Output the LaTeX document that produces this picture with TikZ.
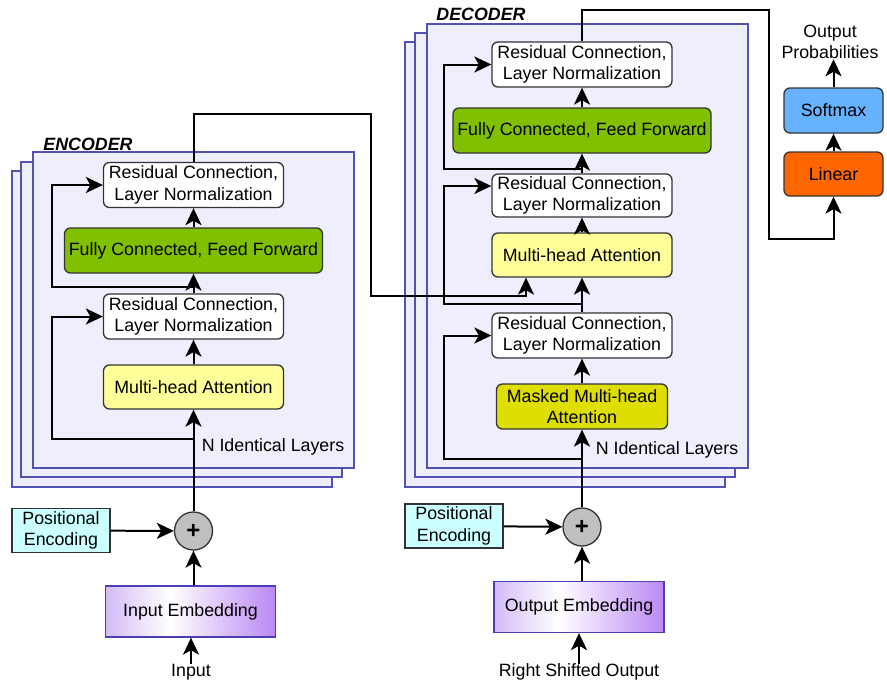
\documentclass[tikz,border=0pt]{standalone}
\usepackage{fontspec}
\setmainfont{Liberation Sans}
\usetikzlibrary{arrows.meta,calc}
\definecolor{stackfill}{HTML}{EEEEFC}
\definecolor{stackline}{HTML}{5252B4}
\definecolor{ffgreen}{HTML}{80C000}
\definecolor{attyellow}{HTML}{FFFF99}
\definecolor{maskyellow}{HTML}{DEDE00}
\definecolor{pecyan}{HTML}{CCFFFF}
\definecolor{sumgray}{HTML}{C0C0C0}
\definecolor{softblue}{HTML}{66B2FF}
\definecolor{linorange}{HTML}{FF6600}
\definecolor{embleft}{HTML}{D3BBF8}
\definecolor{embright}{HTML}{BA88F3}
\definecolor{embline}{HTML}{4A3FB5}
\definecolor{boxline}{HTML}{333333}
% lavender -> white -> violet; the visible band of a node shading is 25bp..75bp
\pgfdeclarehorizontalshading{embshade}{100bp}{color(0bp)=(embleft); color(25bp)=(embleft); color(44bp)=(white); color(75bp)=(embright); color(100bp)=(embright)}
\begin{document}
\begin{tikzpicture}[x=1pt,y=-1pt,
  every node/.style={font=\fontsize{17.8}{21.5}\selectfont},
  blockbox/.style={draw=boxline,line width=1.3pt,rounded corners=6pt,align=center,inner sep=2pt},
  rcbox/.style={blockbox,fill=white,minimum width=180pt,minimum height=45pt},
  ffbox/.style={blockbox,fill=ffgreen,minimum width=258pt,minimum height=45pt},
  attbox/.style={blockbox,fill=attyellow,minimum width=180pt,minimum height=44pt},
  maskbox/.style={blockbox,fill=maskyellow,minimum width=171pt,minimum height=45pt},
  outbox/.style={blockbox,minimum width=99pt,minimum height=44pt},
  pebox/.style={draw=boxline,line width=1.3pt,fill=pecyan,align=center,inner sep=2pt,minimum width=98pt,minimum height=44pt},
  embbox/.style={draw=embline,line width=1.3pt,shading=embshade,minimum width=170pt,minimum height=51pt},
  sumnode/.style={circle,draw=boxline,line width=1.3pt,fill=sumgray,minimum size=38pt,inner sep=0pt,font=\fontsize{24}{24}\selectfont\bfseries},
  stackbox/.style={draw=stackline,fill=stackfill,line width=1.3pt},
  titletext/.style={font=\fontsize{17.8}{21.5}\selectfont\bfseries\itshape},
  plaintext/.style={inner sep=0pt,align=center},
  wire/.style={line width=2pt,draw=black},
  arr/.style={wire,-{Stealth[length=17pt,width=16pt,inset=4.5pt]}},
]
\useasboundingbox (0,0) rectangle (887,686);

% ---------- layer stacks ----------
\draw[stackbox] (12,171) rectangle (332,487);
\draw[stackbox] (21,162) rectangle (342,477);
\draw[stackbox] (33,152) rectangle (354,468);
\draw[stackbox] (405,42) rectangle (725,487);
\draw[stackbox] (415,33) rectangle (735,477);
\draw[stackbox] (427,24) rectangle (748,468);

\node[titletext] (enctitle) at (88,144) {ENCODER};
\node[titletext] (dectitle) at (481,14) {DECODER};

% ---------- encoder ----------
\node[rcbox]   (erc2) at (193.5,185)   {Residual Connection,\\Layer Normalization};
\node[ffbox]   (eff)  at (193.5,250.5) {Fully Connected, Feed Forward};
\node[rcbox]   (erc1) at (193.5,316.5) {Residual Connection,\\Layer Normalization};
\node[attbox]  (emha) at (193.5,387)   {Multi-head Attention};
\node[plaintext] (enclayers) at (273,447) {N Identical Layers};
\node[sumnode] (eplus) at (193.5,531) {+};
\node[pebox]   (epe)  at (61,530.5) {Positional\\Encoding};
\node[embbox]  (iemb) at (190.5,611.5) {Input Embedding};
\node[plaintext] (inp) at (191,672) {Input};

\coordinate (eskipA) at (193.5,439);
\coordinate (eskipB) at (193.5,287);

\draw[arr] (inp.north) -- (inp.north |- iemb.south);
\draw[arr] (iemb.north -| eplus) -- (eplus);
\draw[arr] (epe) -- (eplus);
\draw[arr] (eplus) -- (emha);
\draw[arr] (emha) -- (erc1);
\draw[arr] (erc1) -- (eff);
\draw[arr] (eff) -- (erc2);
\draw[arr] (eskipA) -- (52,439) |- (erc1.west);
\draw[arr] (eskipB) -- (52,287) |- (erc2.west);

% ---------- decoder ----------
\node[rcbox]   (drc3) at (582,64.5)  {Residual Connection,\\Layer Normalization};
\node[ffbox]   (dff)  at (582,130.5) {Fully Connected, Feed Forward};
\node[rcbox,minimum height=43pt] (drc2) at (582,195.5) {Residual Connection,\\Layer Normalization};
\node[attbox]  (dmha) at (582,255)   {Multi-head Attention};
\node[rcbox]   (drc1) at (582,335.5) {Residual Connection,\\Layer Normalization};
\node[maskbox] (dmmha) at (582,406.5) {Masked Multi-head\\Attention};
\node[plaintext] (declayers) at (667,450) {N Identical Layers};
\node[sumnode] (dplus) at (582,527) {+};
\node[pebox]   (dpe)  at (454,526) {Positional\\Encoding};
\node[embbox]  (oemb) at (579,607) {Output Embedding};
\node[plaintext] (rso) at (579,672) {Right Shifted Output};

\coordinate (dskipA) at (582,459);
\coordinate (dskipB) at (582,304);
\coordinate (dskipC) at (582,169);

\draw[arr] (rso.north) -- (rso.north |- oemb.south);
\draw[arr] (oemb.north -| dplus) -- (dplus);
\draw[arr] (dpe) -- (dplus);
\draw[arr] (dplus) -- (dmmha);
\draw[arr] (dmmha) -- (drc1);
\draw[arr] (drc1) -- (dmha);
\draw[arr] (dmha) -- (drc2);
\draw[arr] (drc2) -- (dff);
\draw[arr] (dff) -- (drc3);
\draw[arr] (dskipA) -- (444,459) |- (drc1.west);
\draw[arr] (dskipB) -- (444,304) |- ([yshift=9.5pt]drc2.west);
\draw[arr] (dskipC) -- (444,169) |- (drc3.west);

% encoder output into the decoder attention
\draw[arr] (erc2.north) |- (371,114) -- (371,296) -| ([xshift=-56pt]dmha.south);

% ---------- output head ----------
\node[outbox,fill=linorange] (lin)  at (833.5,174)   {Linear};
\node[outbox,fill=softblue,minimum height=45pt] (soft) at (833.5,110.5) {Softmax};
\node[plaintext] (outprob) at (830,42) {Output\\Probabilities};

\draw[arr] (drc3.north) |- (769,10) -- (769,239) -| (lin.south);
\draw[arr] (lin) -- (soft);
\draw[arr] (soft.north) -- (soft.north |- outprob.south);
\end{tikzpicture}
\end{document}
